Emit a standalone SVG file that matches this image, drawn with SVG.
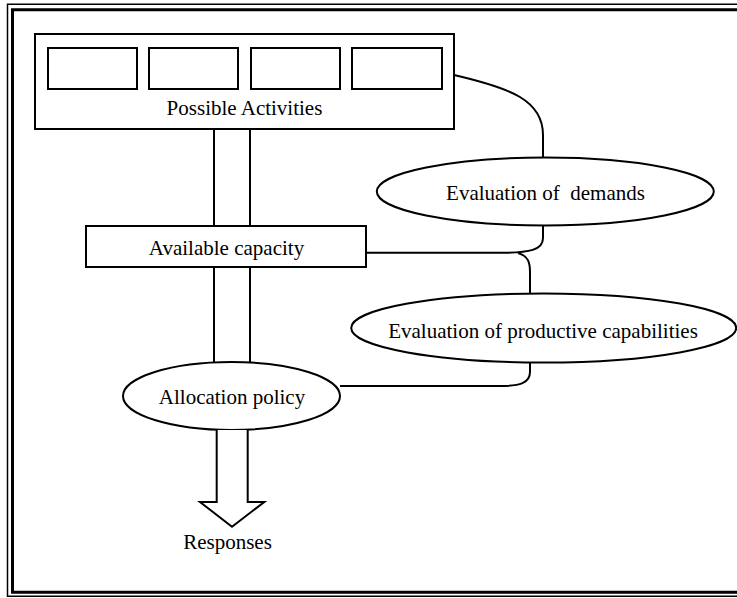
<svg xmlns="http://www.w3.org/2000/svg" width="737" height="598" viewBox="0 0 737 598">
<style>
  .box { fill: #fff; stroke: #000; stroke-width: 2; }
  .conn { fill: none; stroke: #000; stroke-width: 2; }
  .lbl { font-family: "Liberation Serif", "Times New Roman", serif; font-size: 21px; fill: #000; text-anchor: middle; }
  .frame { fill: none; stroke: #000; }
</style>
<rect x="0" y="0" width="737" height="598" fill="#fff"/>
<g id="frame">
  <path class="frame" stroke-width="1.5" d="M737,4.2 H7.5 V596.3 H737"/>
  <path class="frame" stroke-width="3" d="M737,9.8 H12.5 V592.2 H737"/>
</g>
<g id="connectors">
  <line class="conn" x1="214" y1="129" x2="214" y2="226"/>
  <line class="conn" x1="250" y1="129" x2="250" y2="226"/>
  <line class="conn" x1="214" y1="267" x2="214" y2="363"/>
  <line class="conn" x1="250" y1="267" x2="250" y2="363"/>
  <path class="conn" d="M454,75 C510,88 543,100 543,135 V157.5"/>
  <path class="conn" d="M543,225.5 V238 C543,250 530,252.8 500,252.8 H366"/>
  <path class="conn" d="M518,253 C528,256 530,262 530,272 V293.5"/>
  <path class="conn" d="M530,362.5 V372 C530,383 520,386 500,386 H340"/>
</g>
<g id="possible-activities">
  <rect class="box" x="35" y="34" width="419" height="95"/>
  <rect class="box" x="48" y="48" width="89" height="41"/>
  <rect class="box" x="149" y="48" width="89" height="41"/>
  <rect class="box" x="251" y="48" width="89" height="41"/>
  <rect class="box" x="352" y="48" width="90" height="41"/>
  <text class="lbl" x="244.5" y="115">Possible Activities</text>
</g>
<g id="available-capacity">
  <rect class="box" x="86" y="226" width="280" height="41"/>
  <text class="lbl" x="226.5" y="254.5">Available capacity</text>
</g>
<g id="evaluation-demands">
  <ellipse class="box" cx="545.3" cy="191.5" rx="168.5" ry="34"/>
  <text class="lbl" x="545.5" y="199.5" xml:space="preserve">Evaluation of  demands</text>
</g>
<g id="evaluation-productive">
  <ellipse class="box" cx="543.7" cy="328" rx="192.5" ry="34.5"/>
  <text class="lbl" x="543" y="337.5">Evaluation of productive capabilities</text>
</g>
<g id="allocation-policy">
  <ellipse class="box" cx="231.5" cy="396" rx="108.5" ry="34"/>
  <text class="lbl" x="232" y="404">Allocation policy</text>
</g>
<g id="responses">
  <path class="box" d="M216.7,430 V502 H200 L232,526.7 L264.3,502 H247.7 V430"/>
  <text class="lbl" x="227.5" y="549">Responses</text>
</g>
</svg>
